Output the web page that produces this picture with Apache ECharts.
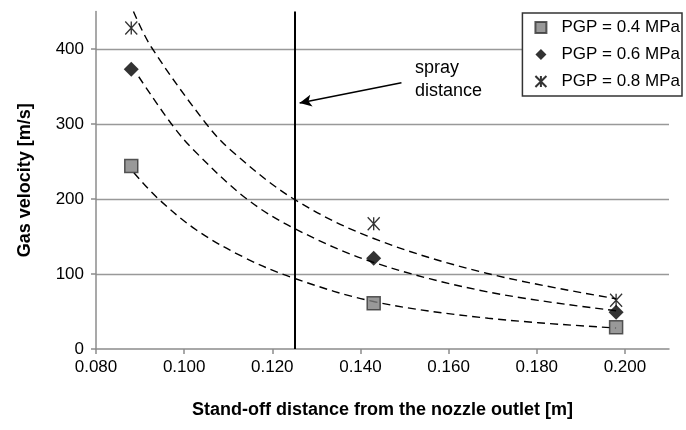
<!DOCTYPE html>
<html>
<head>
<meta charset="utf-8">
<script src="https://cdn.jsdelivr.net/npm/echarts@6/dist/echarts.min.js"></script>
<style>
  html, body { margin: 0; padding: 0; background: #fff; }
  #chart { width: 686px; height: 430px; }
</style>
</head>
<body>
<div id="chart"></div>
<script>
// names of the three pressure levels
var pgpNames = ["PGP = 0.4 MPa", "PGP = 0.6 MPa", "PGP = 0.8 MPa"];
// measured points (stand-off distance [m], gas velocity [m/s])
var measX = [0.088, 0.143, 0.198];
var vel04 = [244, 61, 29];
var vel06 = [373, 121, 49];
var vel08 = [428, 167, 65];
// dashed trend lines
var fitX04 = [0.0886, 0.094, 0.1027, 0.1133, 0.1246, 0.1432, 0.169, 0.198];
var fitY04 = [235, 201, 159, 123, 95, 63, 41, 28];
var fitX06 = [0.0897, 0.097, 0.1022, 0.114, 0.1249, 0.1427, 0.169, 0.198];
var fitY06 = [363, 301, 265, 201, 161, 116, 76, 51];
var fitX08 = [0.0885, 0.0925, 0.1049, 0.1106, 0.1246, 0.1427, 0.1686, 0.198];
var fitY08 = [450, 403, 301, 265, 201, 148, 101, 67];
// spray distance marker and arrow
var sprayX = 0.125;
var arrowFrom = [0.1493, 355];
var arrowTo = [0.1262, 328];
// axis ticks
var xTicks = [0.08, 0.1, 0.12, 0.14, 0.16, 0.18, 0.2];
var yTicks = [0, 100, 200, 300, 400];

function pairs(xs, ys) {
  return xs.map(function (x, i) { return [x, ys[i]]; });
}

var chart = echarts.init(document.getElementById("chart"));
var font = "Liberation Sans, Arial, sans-serif";
var starPath = "path://M0,0L10,10M10,0L0,10M5,0L5,10";

var fitStyle = { color: "#000", width: 1.4, type: [8, 5] };

var series = [];
// trend lines
[[fitX04, fitY04], [fitX06, fitY06], [fitX08, fitY08]].forEach(function (f, i) {
  series.push({
    name: "fit" + i,
    type: "line",
    data: pairs(f[0], f[1]),
    smooth: 0.35,
    showSymbol: false,
    silent: true,
    lineStyle: fitStyle,
    z: 2
  });
});

series.push({
  name: pgpNames[0],
  type: "scatter",
  data: pairs(measX, vel04),
  symbol: "rect",
  symbolSize: 13,
  itemStyle: { color: "#808080", borderColor: "#333", borderWidth: 1.5 },
  z: 5,
  markLine: {
    silent: true,
    symbol: "none",
    precision: 4,
    animation: false,
    label: { show: false },
    lineStyle: { color: "#000", width: 2, type: "solid" },
    data: [{ xAxis: sprayX }]
  }
});
series.push({
  name: pgpNames[1],
  type: "scatter",
  data: pairs(measX, vel06),
  symbol: "diamond",
  symbolSize: 15,
  itemStyle: { color: "#000" },
  z: 5,
  markLine: {
    silent: true,
    symbol: ["none", "arrow"],
    symbolSize: [9, 12],
    precision: 4,
    animation: false,
    label: { show: false },
    lineStyle: { color: "#000", width: 1.5, type: "solid" },
    data: [[{ coord: arrowFrom }, { coord: arrowTo }]]
  }
});
series.push({
  name: pgpNames[2],
  type: "scatter",
  data: pairs(measX, vel08),
  symbol: starPath,
  symbolSize: [12, 13],
  itemStyle: { color: "rgba(0,0,0,0)", borderColor: "#000", borderWidth: 1.4 },
  z: 5
});

var option = {
  animation: false,
  textStyle: { fontFamily: font },
  grid: { left: 96, right: 17, top: 11.5, bottom: 81 },
  legend: {
    data: pgpNames,
    orient: "vertical",
    right: 4,
    top: 13,
    padding: [6, 2, 6, 12],
    itemGap: 10,
    itemWidth: 11,
    itemHeight: 11,
    borderColor: "#333",
    borderWidth: 1.5,
    backgroundColor: "#fff",
    textStyle: { fontSize: 17, color: "#000", fontFamily: font, padding: [0, 0, 0, 10] }
  },
  graphic: [{
    type: "text",
    left: 415,
    top: 57,
    style: {
      text: "spray\ndistance",
      fontSize: 18,
      lineHeight: 23,
      fill: "#000",
      fontFamily: font
    }
  }],
  xAxis: {
    type: "value",
    min: 0.08,
    max: 0.21,
    interval: 0.02,
    name: "Stand-off distance from the nozzle outlet [m]",
    nameLocation: "middle",
    nameGap: 52,
    nameTextStyle: { fontSize: 18, fontWeight: "bold", color: "#000", fontFamily: font },
    axisLine: { show: true, lineStyle: { color: "#8c8c8c", width: 1.5 } },
    axisTick: { show: true, length: 5, lineStyle: { color: "#8c8c8c", width: 1.5 } },
    splitLine: { show: false },
    axisLabel: {
      fontSize: 17,
      color: "#000",
      margin: 10,
      showMaxLabel: false,
      formatter: function (v) {
        for (var i = 0; i < xTicks.length; i++) {
          if (Math.abs(v - xTicks[i]) < 1e-6) return v.toFixed(3);
        }
        return "";
      }
    }
  },
  yAxis: {
    type: "value",
    min: 0,
    max: 450,
    interval: 100,
    name: "Gas velocity [m/s]",
    nameLocation: "middle",
    nameGap: 62,
    nameTextStyle: { fontSize: 18, fontWeight: "bold", color: "#000", fontFamily: font },
    axisLine: { show: true, lineStyle: { color: "#8c8c8c", width: 1.5 } },
    axisTick: { show: true, length: 5, lineStyle: { color: "#8c8c8c", width: 1.5 } },
    splitLine: { show: true, showMaxLine: false, showMinLine: false, lineStyle: { color: "#999", width: 1.3 } },
    axisLabel: {
      fontSize: 17,
      color: "#000",
      margin: 12,
      showMaxLabel: false,
      formatter: function (v) {
        return yTicks.indexOf(v) >= 0 ? String(v) : "";
      }
    }
  },
  series: series
};
chart.setOption(option);
</script>
</body>
</html>
